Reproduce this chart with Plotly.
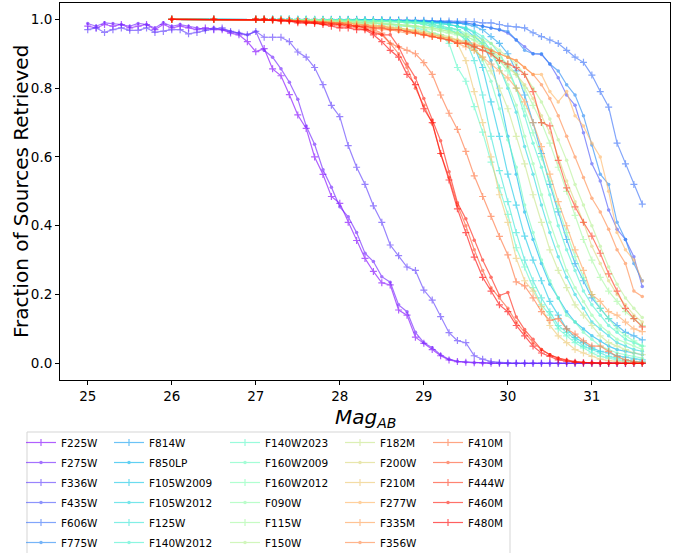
import math
import plotly.graph_objects as go

# Magnitude bins of the injection/recovery tests
MAG_UV = [25.0, 25.1, 25.2, 25.3, 25.4, 25.5, 25.6, 25.7, 25.8, 25.9,
          26.0, 26.1, 26.2, 26.3, 26.4, 26.5, 26.6, 26.7, 26.8, 26.9,
          27.0, 27.1, 27.2, 27.3, 27.4, 27.5, 27.6, 27.7, 27.8, 27.9,
          28.0, 28.1, 28.2, 28.3, 28.4, 28.5, 28.6, 28.7, 28.8, 28.9,
          29.0, 29.1, 29.2, 29.3, 29.4, 29.5, 29.6, 29.7, 29.8, 29.9,
          30.0, 30.1, 30.2, 30.3, 30.4, 30.5, 30.6, 30.7, 30.8, 30.9,
          31.0, 31.1, 31.2, 31.3, 31.4, 31.5, 31.6]
MAG_IR = [26.0, 26.5] + MAG_UV[20:]

# ---- completeness per filter (fraction of injected sources retrieved) ----
F225W = [0.98, 0.975, 0.985, 0.98, 0.985, 0.975, 0.98, 0.985, 0.97, 0.985,
         0.975, 0.98, 0.975, 0.97, 0.975, 0.97, 0.97, 0.96, 0.955, 0.935,
         0.906, 0.915, 0.856, 0.836, 0.781, 0.722, 0.683, 0.600, 0.549, 0.485,
         0.465, 0.41, 0.357, 0.305, 0.267, 0.234, 0.228, 0.155, 0.14, 0.076,
         0.058, 0.04, 0.022, 0.01, 0.005, 0.003, 0.002, 0.001, 0.0, 0.0,
         0, 0, 0, 0, 0, 0, 0, 0, 0, 0,
         0, 0, 0, 0, 0, 0, 0]
F275W = [0.988, 0.98, 0.99, 0.988, 0.985, 0.98, 0.988, 0.985, 0.975, 0.99,
         0.98, 0.985, 0.98, 0.975, 0.97, 0.975, 0.97, 0.965, 0.96, 0.955,
         0.965, 0.91, 0.89, 0.856, 0.817, 0.768, 0.69, 0.637, 0.563, 0.512,
         0.455, 0.426, 0.38, 0.32, 0.296, 0.252, 0.236, 0.17, 0.15, 0.09,
         0.06, 0.045, 0.025, 0.012, 0.006, 0.004, 0.002, 0.001, 0, 0,
         0, 0, 0, 0, 0, 0, 0, 0, 0, 0,
         0, 0, 0, 0, 0, 0, 0]
F336W = [0.97, 0.975, 0.962, 0.97, 0.975, 0.968, 0.968, 0.975, 0.962, 0.965,
         0.97, 0.97, 0.958, 0.962, 0.968, 0.972, 0.975, 0.965, 0.96, 0.955,
         0.965, 0.948, 0.948, 0.948, 0.935, 0.905, 0.89, 0.86, 0.81, 0.75,
         0.717, 0.633, 0.57, 0.52, 0.458, 0.41, 0.344, 0.313, 0.28, 0.27,
         0.213, 0.184, 0.136, 0.089, 0.066, 0.06, 0.022, 0.012, 0.005, 0.002,
         0.001, 0, 0, 0, 0, 0, 0, 0, 0, 0,
         0, 0, 0, 0, 0, 0, 0]
F435W = [1, 1, 1, 1, 1, 1, 1, 1, 1, 1, 0.999, 0.999,
         0.999, 0.999, 0.998, 0.998, 0.998, 0.997, 0.997, 0.996, 0.996, 0.995,
         0.995, 0.994, 0.993, 0.992, 0.99, 0.99, 0.985, 0.98, 0.975, 0.97,
         0.96, 0.94, 0.92, 0.90, 0.898, 0.87, 0.83, 0.78, 0.75, 0.67,
         0.58, 0.53, 0.446, 0.39, 0.36, 0.31, 0.223]
F606W = [1, 1, 1, 1, 1, 1, 1, 1, 1, 1, 1, 1,
         1, 1, 1, 0.999, 0.999, 0.999, 0.998, 0.998, 0.998, 0.997,
         0.997, 0.996, 0.995, 0.995, 0.994, 0.994, 0.993, 0.99, 0.99, 0.985,
         0.98, 0.978, 0.975, 0.961, 0.95, 0.94, 0.93, 0.91, 0.89, 0.875,
         0.838, 0.79, 0.745, 0.64, 0.58, 0.52, 0.463]
F775W = [1, 1, 1, 1, 1, 1, 1, 1, 1, 1, 0.999, 0.999,
         0.999, 0.998, 0.998, 0.998, 0.997, 0.997, 0.996, 0.996, 0.995, 0.995,
         0.994, 0.993, 0.992, 0.99, 0.99, 0.988, 0.985, 0.98, 0.975, 0.97,
         0.965, 0.94, 0.91, 0.90, 0.90, 0.87, 0.85, 0.81, 0.78, 0.72,
         0.635, 0.55, 0.52, 0.41, 0.36, 0.29, 0.24]
F814W = [1, 1, 1, 1, 1, 1, 1, 1, 1, 0.999, 0.999, 0.999,
         0.999, 0.999, 0.999, 0.998, 0.998, 0.998, 0.997, 0.997, 0.996, 0.996,
         0.995, 0.994, 0.993, 0.99, 0.99, 0.985, 0.98, 0.97, 0.95, 0.93,
         0.90, 0.85, 0.78, 0.70, 0.61, 0.52, 0.44, 0.36, 0.29, 0.24,
         0.19, 0.16, 0.13, 0.11, 0.09, 0.08, 0.068]
F850LP = [1, 1, 1, 1, 1, 1, 1, 1, 0.999, 0.999, 0.999, 0.999,
          0.999, 0.998, 0.998, 0.998, 0.997, 0.997, 0.996, 0.996, 0.995, 0.994,
          0.993, 0.99, 0.99, 0.985, 0.98, 0.97, 0.95, 0.93, 0.88, 0.78,
          0.66, 0.55, 0.44, 0.36, 0.29, 0.23, 0.19, 0.15, 0.12, 0.10,
          0.08, 0.065, 0.05, 0.04, 0.035, 0.03, 0.025]
F105W2009 = [1, 1, 1, 1, 1, 1, 1, 0.999, 0.999, 0.999, 0.998, 0.998,
             0.998, 0.998, 0.997, 0.997, 0.996, 0.996, 0.995, 0.994, 0.993, 0.99,
             0.99, 0.985, 0.98, 0.975, 0.97, 0.95, 0.92, 0.86, 0.76, 0.66,
             0.55, 0.46, 0.37, 0.30, 0.24, 0.18, 0.14, 0.10, 0.075, 0.06,
             0.045, 0.035, 0.03, 0.022, 0.018, 0.012, 0.01]
F105W2012 = [1, 1, 1, 1, 1, 1, 1, 1, 1, 0.999, 0.999, 0.999,
             0.999, 0.999, 0.998, 0.998, 0.997, 0.997, 0.996, 0.995, 0.995, 0.994,
             0.993, 0.99, 0.988, 0.985, 0.98, 0.975, 0.96, 0.94, 0.91, 0.86,
             0.80, 0.73, 0.63, 0.55, 0.46, 0.38, 0.31, 0.25, 0.20, 0.16,
             0.12, 0.10, 0.08, 0.06, 0.05, 0.04, 0.035]
F125W = [1, 1, 1, 1, 1, 1, 1, 0.999, 0.999, 0.999, 0.998, 0.998,
         0.998, 0.997, 0.997, 0.996, 0.995, 0.995, 0.994, 0.993, 0.99, 0.99,
         0.985, 0.98, 0.975, 0.97, 0.96, 0.94, 0.88, 0.78, 0.66, 0.56,
         0.47, 0.38, 0.30, 0.24, 0.19, 0.15, 0.11, 0.09, 0.07, 0.05,
         0.04, 0.03, 0.02, 0.015, 0.01, 0.006, 0.004]
F140W2012 = [1, 1, 1, 1, 1, 1, 1, 1, 0.999, 0.999, 0.999, 0.999,
             0.999, 0.998, 0.998, 0.998, 0.997, 0.997, 0.996, 0.996, 0.995, 0.994,
             0.99, 0.99, 0.985, 0.985, 0.98, 0.975, 0.965, 0.95, 0.93, 0.90,
             0.86, 0.80, 0.72, 0.64, 0.57, 0.49, 0.40, 0.33, 0.27, 0.21,
             0.17, 0.14, 0.11, 0.09, 0.07, 0.06, 0.05]
F140W2023 = [1, 1, 1, 1, 1, 1, 1, 0.999, 0.999, 0.998, 0.998, 0.997,
             0.995, 0.995, 0.99, 0.99, 0.99, 0.985, 0.985, 0.98, 0.98, 0.975,
             0.97, 0.96, 0.955, 0.93, 0.86, 0.82, 0.746, 0.672, 0.585, 0.51,
             0.433, 0.336, 0.28, 0.22, 0.17, 0.14, 0.10, 0.08, 0.06, 0.045,
             0.03, 0.02, 0.015, 0.01, 0.005, 0.003, 0.002]
F160W2009 = [1, 1, 1, 1, 1, 1, 1, 0.999, 0.999, 0.999, 0.998, 0.998,
             0.998, 0.998, 0.997, 0.996, 0.996, 0.995, 0.994, 0.993, 0.99, 0.99,
             0.985, 0.98, 0.975, 0.97, 0.96, 0.94, 0.92, 0.88, 0.82, 0.74,
             0.65, 0.57, 0.46, 0.38, 0.30, 0.24, 0.19, 0.14, 0.12, 0.09,
             0.07, 0.05, 0.04, 0.03, 0.025, 0.02, 0.015]
F160W2012 = [1, 1, 1, 1, 1, 1, 1, 0.999, 0.999, 0.999, 0.998, 0.998,
             0.998, 0.998, 0.997, 0.996, 0.996, 0.995, 0.994, 0.994, 0.993, 0.99,
             0.99, 0.985, 0.98, 0.975, 0.97, 0.96, 0.95, 0.93, 0.91, 0.88,
             0.85, 0.80, 0.74, 0.67, 0.60, 0.53, 0.45, 0.38, 0.31, 0.25,
             0.20, 0.16, 0.13, 0.10, 0.08, 0.065, 0.05]
F090W = [1, 1, 1, 1, 1, 0.999, 0.999, 0.998, 0.998, 0.997, 0.996, 0.996,
         0.995, 0.995, 0.994, 0.993, 0.99, 0.99, 0.988, 0.985, 0.985, 0.98,
         0.978, 0.975, 0.97, 0.965, 0.96, 0.95, 0.94, 0.92, 0.90, 0.86,
         0.81, 0.75, 0.66, 0.58, 0.49, 0.41, 0.34, 0.27, 0.22, 0.18,
         0.14, 0.11, 0.09, 0.07, 0.06, 0.05, 0.04]
F115W = [1, 1, 1, 1, 1, 0.999, 0.999, 0.998, 0.998, 0.997, 0.997, 0.996,
         0.995, 0.994, 0.993, 0.99, 0.99, 0.988, 0.985, 0.985, 0.98, 0.98,
         0.975, 0.97, 0.965, 0.96, 0.955, 0.95, 0.94, 0.93, 0.91, 0.89,
         0.87, 0.84, 0.80, 0.75, 0.70, 0.64, 0.57, 0.50, 0.43, 0.36,
         0.30, 0.25, 0.21, 0.18, 0.15, 0.13, 0.11]
F150W = [1, 1, 1, 1, 1, 1, 0.999, 0.999, 0.998, 0.998, 0.997, 0.996,
         0.995, 0.995, 0.993, 0.99, 0.99, 0.988, 0.986, 0.985, 0.982, 0.98,
         0.978, 0.975, 0.97, 0.965, 0.96, 0.955, 0.95, 0.94, 0.93, 0.91,
         0.89, 0.87, 0.84, 0.80, 0.76, 0.71, 0.65, 0.59, 0.52, 0.46,
         0.40, 0.34, 0.28, 0.23, 0.19, 0.16, 0.133]
F182M = [1, 1, 1, 1, 0.999, 0.998, 0.997, 0.996, 0.995, 0.994, 0.993, 0.992,
         0.99, 0.99, 0.988, 0.985, 0.985, 0.98, 0.98, 0.975, 0.97, 0.97,
         0.965, 0.96, 0.955, 0.95, 0.94, 0.93, 0.91, 0.89, 0.85, 0.80,
         0.74, 0.66, 0.58, 0.49, 0.41, 0.33, 0.27, 0.22, 0.17, 0.14,
         0.11, 0.08, 0.06, 0.05, 0.04, 0.03, 0.025]
F200W = [1, 1, 1, 1, 0.999, 0.998, 0.997, 0.996, 0.995, 0.994, 0.993, 0.992,
         0.99, 0.99, 0.988, 0.985, 0.98, 0.98, 0.975, 0.975, 0.97, 0.965,
         0.96, 0.955, 0.95, 0.945, 0.94, 0.93, 0.92, 0.91, 0.90, 0.88,
         0.86, 0.84, 0.81, 0.77, 0.72, 0.67, 0.60, 0.53, 0.47, 0.41,
         0.34, 0.29, 0.24, 0.20, 0.17, 0.14, 0.12]
F210M = [1, 1, 1, 1, 0.999, 0.998, 0.997, 0.996, 0.995, 0.994, 0.993, 0.992,
         0.99, 0.99, 0.985, 0.985, 0.98, 0.98, 0.975, 0.975, 0.97, 0.965,
         0.96, 0.955, 0.95, 0.945, 0.93, 0.88, 0.79, 0.70, 0.60, 0.49,
         0.41, 0.305, 0.24, 0.21, 0.165, 0.11, 0.08, 0.06, 0.04, 0.03,
         0.02, 0.012, 0.008, 0.005, 0.003, 0.002, 0.001]
F277W = [1, 1, 1, 1, 0.999, 0.998, 0.997, 0.995, 0.994, 0.992, 0.99, 0.988,
         0.985, 0.985, 0.98, 0.98, 0.975, 0.975, 0.97, 0.97, 0.965, 0.965,
         0.96, 0.955, 0.95, 0.945, 0.94, 0.935, 0.93, 0.92, 0.91, 0.90,
         0.89, 0.88, 0.86, 0.84, 0.84, 0.79, 0.76, 0.79, 0.72, 0.69,
         0.64, 0.60, 0.50, 0.38, 0.33, 0.30, 0.239]
F335M = [1, 1, 1, 1, 0.999, 0.998, 0.997, 0.995, 0.994, 0.993, 0.992, 0.99,
         0.99, 0.99, 0.985, 0.985, 0.98, 0.98, 0.975, 0.97, 0.965, 0.96,
         0.955, 0.95, 0.945, 0.94, 0.93, 0.92, 0.91, 0.89, 0.87, 0.85,
         0.83, 0.80, 0.76, 0.70, 0.63, 0.55, 0.47, 0.40, 0.33, 0.27,
         0.20, 0.18, 0.15, 0.14, 0.12, 0.10, 0.092]
F356W = [1, 1, 1, 1, 0.999, 0.998, 0.996, 0.995, 0.993, 0.992, 0.99, 0.988,
         0.985, 0.985, 0.98, 0.98, 0.975, 0.97, 0.97, 0.965, 0.96, 0.96,
         0.955, 0.95, 0.945, 0.94, 0.935, 0.93, 0.925, 0.92, 0.91, 0.90,
         0.89, 0.88, 0.86, 0.84, 0.81, 0.77, 0.72, 0.66, 0.60, 0.54,
         0.48, 0.44, 0.39, 0.33, 0.29, 0.21, 0.194]
F410M = [1, 1, 1, 1, 0.999, 0.998, 0.997, 0.995, 0.994, 0.993, 0.992, 0.99,
         0.99, 0.985, 0.98, 0.975, 0.97, 0.96, 0.93, 0.92, 0.91, 0.90,
         0.874, 0.84, 0.78, 0.727, 0.68, 0.616, 0.545, 0.485, 0.427, 0.369,
         0.315, 0.237, 0.225, 0.19, 0.15, 0.125, 0.13, 0.10, 0.085, 0.065,
         0.05, 0.05, 0.035, 0.02, 0.01, 0.005, 0.003]
F430M = [1, 1, 1, 1, 0.998, 0.997, 0.995, 0.993, 0.99, 0.99, 0.985, 0.985,
         0.98, 0.98, 0.975, 0.97, 0.965, 0.955, 0.93, 0.90, 0.86, 0.80,
         0.75, 0.698, 0.61, 0.54, 0.46, 0.40, 0.33, 0.27, 0.22, 0.19,
         0.16, 0.12, 0.09, 0.06, 0.04, 0.025, 0.015, 0.008, 0.004, 0.002,
         0.001, 0, 0, 0, 0, 0, 0]
F444W = [1, 1, 1, 1, 0.999, 0.998, 0.997, 0.995, 0.994, 0.992, 0.99, 0.988,
         0.985, 0.985, 0.98, 0.98, 0.975, 0.975, 0.97, 0.97, 0.965, 0.96,
         0.955, 0.95, 0.945, 0.94, 0.93, 0.93, 0.92, 0.91, 0.90, 0.88,
         0.87, 0.86, 0.84, 0.79, 0.70, 0.69, 0.59, 0.51, 0.455, 0.41,
         0.37, 0.32, 0.26, 0.21, 0.16, 0.13, 0.106]
F460M = [1, 1, 1, 1, 1, 0.998, 0.995, 0.993, 0.99, 0.99, 0.988, 0.985,
         0.985, 0.98, 0.98, 0.975, 0.96, 0.955, 0.955, 0.92, 0.87, 0.83,
         0.77, 0.707, 0.647, 0.557, 0.467, 0.42, 0.358, 0.30, 0.25, 0.197,
         0.206, 0.135, 0.098, 0.07, 0.04, 0.025, 0.015, 0.01, 0.005, 0.003,
         0.002, 0.001, 0, 0, 0, 0, 0]
F480M = [1, 1, 1, 1, 0.998, 0.995, 0.995, 0.99, 0.99, 0.988, 0.985, 0.98,
         0.975, 0.975, 0.97, 0.97, 0.955, 0.935, 0.91, 0.89, 0.84, 0.81,
         0.74, 0.70, 0.61, 0.533, 0.449, 0.38, 0.309, 0.25, 0.21, 0.17,
         0.15, 0.11, 0.08, 0.05, 0.03, 0.02, 0.01, 0.006, 0.003, 0.002,
         0.001, 0, 0, 0, 0, 0, 0]

SERIES = [
    ("F225W", MAG_UV, F225W), ("F275W", MAG_UV, F275W), ("F336W", MAG_UV, F336W),
    ("F435W", MAG_IR, F435W), ("F606W", MAG_IR, F606W), ("F775W", MAG_IR, F775W),
    ("F814W", MAG_IR, F814W), ("F850LP", MAG_IR, F850LP),
    ("F105W2009", MAG_IR, F105W2009), ("F105W2012", MAG_IR, F105W2012),
    ("F125W", MAG_IR, F125W), ("F140W2012", MAG_IR, F140W2012),
    ("F140W2023", MAG_IR, F140W2023), ("F160W2009", MAG_IR, F160W2009),
    ("F160W2012", MAG_IR, F160W2012), ("F090W", MAG_IR, F090W),
    ("F115W", MAG_IR, F115W), ("F150W", MAG_IR, F150W),
    ("F182M", MAG_IR, F182M), ("F200W", MAG_IR, F200W), ("F210M", MAG_IR, F210M),
    ("F277W", MAG_IR, F277W), ("F335M", MAG_IR, F335M), ("F356W", MAG_IR, F356W),
    ("F410M", MAG_IR, F410M), ("F430M", MAG_IR, F430M), ("F444W", MAG_IR, F444W),
    ("F460M", MAG_IR, F460M), ("F480M", MAG_IR, F480M),
]

for name, mags, frac in SERIES:
    assert len(mags) == len(frac), name


def rainbow(t):
    """Matplotlib-style 'rainbow' colormap."""
    r = min(1.0, abs(2 * t - 0.5))
    g = math.sin(math.pi * t)
    b = math.cos(math.pi * t / 2)
    return "rgb(%d,%d,%d)" % (round(r * 255), round(g * 255), round(b * 255))


FONT = "DejaVu Sans"
W, H = 689, 553
L, R, T, B = 60, 19, 3, 173
PW, PH = W - L - R, H - T - B


def px_to_paper_x(px):
    return (px - L) / PW


def px_to_paper_y(py):
    return (H - B - py) / PH


fig = go.Figure()
n = len(SERIES)
ROWS = 6
for i, (name, mags, frac) in enumerate(SERIES):
    col = rainbow(i / (n - 1))
    leg = "legend" if i // ROWS == 0 else "legend%d" % (i // ROWS + 1)
    if i % 2 == 0:
        marker = dict(symbol="cross-thin", size=5, color=col, line=dict(width=1.2, color=col))
    else:
        marker = dict(symbol="circle", size=3.5, color=col, line=dict(width=0))
    fig.add_trace(go.Scatter(
        x=mags, y=frac, name=name, mode="lines+markers",
        line=dict(color=col, width=1.2), marker=marker,
        opacity=0.62, legend=leg, legendgroup=name,
    ))

# legend columns (text start positions in px) and border box
col_text_x = [62, 150, 266, 381, 469]
legend_top = 428
layout_legends = {}
for k, tx in enumerate(col_text_x):
    key = "legend" if k == 0 else "legend%d" % (k + 1)
    layout_legends[key] = dict(
        x=px_to_paper_x(tx - 41), y=px_to_paper_y(legend_top),
        xanchor="left", yanchor="top", orientation="v",
        bgcolor="rgba(0,0,0,0)", borderwidth=0,
        font=dict(family=FONT, size=10.5, color="black"),
        traceorder="grouped", tracegroupgap=1,
    )

fig.add_shape(type="rect", xref="paper", yref="paper",
              x0=px_to_paper_x(27), x1=px_to_paper_x(510),
              y0=px_to_paper_y(560), y1=px_to_paper_y(432),
              line=dict(color="#d5d5d5", width=1), fillcolor="rgba(0,0,0,0)",
              layer="below")

# axis titles
fig.add_annotation(text="Fraction of Sources Retrieved", textangle=-90,
                   xref="paper", yref="paper",
                   x=px_to_paper_x(21), y=px_to_paper_y(192),
                   xanchor="center", yanchor="middle", showarrow=False,
                   font=dict(family=FONT, size=20, color="black"))
fig.add_annotation(text="<i>Mag</i><sub><i>AB</i></sub>",
                   xref="paper", yref="paper",
                   x=px_to_paper_x(365), y=px_to_paper_y(404),
                   xanchor="center", yanchor="top", showarrow=False,
                   borderpad=0,
                   font=dict(family=FONT, size=20, color="black"))

fig.update_layout(
    width=W, height=H,
    margin=dict(l=L, r=R, t=T, b=B, autoexpand=False),
    paper_bgcolor="white", plot_bgcolor="white",
    font=dict(family=FONT, color="black"),
    showlegend=True,
    **layout_legends,
)

fig.update_xaxes(
    range=[24.67, 31.93], tickvals=[25, 26, 27, 28, 29, 30, 31],
    ticks="outside", ticklen=4, tickwidth=1, tickcolor="black",
    showline=True, linecolor="black", linewidth=1, mirror=True,
    showgrid=False, zeroline=False,
    tickfont=dict(family=FONT, size=13.5, color="black"),
)
fig.update_yaxes(
    range=[-0.0485, 1.0475], tickvals=[0, 0.2, 0.4, 0.6, 0.8, 1.0],
    tickformat=".1f",
    ticks="outside", ticklen=4, tickwidth=1, tickcolor="black",
    showline=True, linecolor="black", linewidth=1, mirror=True,
    showgrid=False, zeroline=False,
    tickfont=dict(family=FONT, size=13.5, color="black"),
)

fig.write_html("out.html")
